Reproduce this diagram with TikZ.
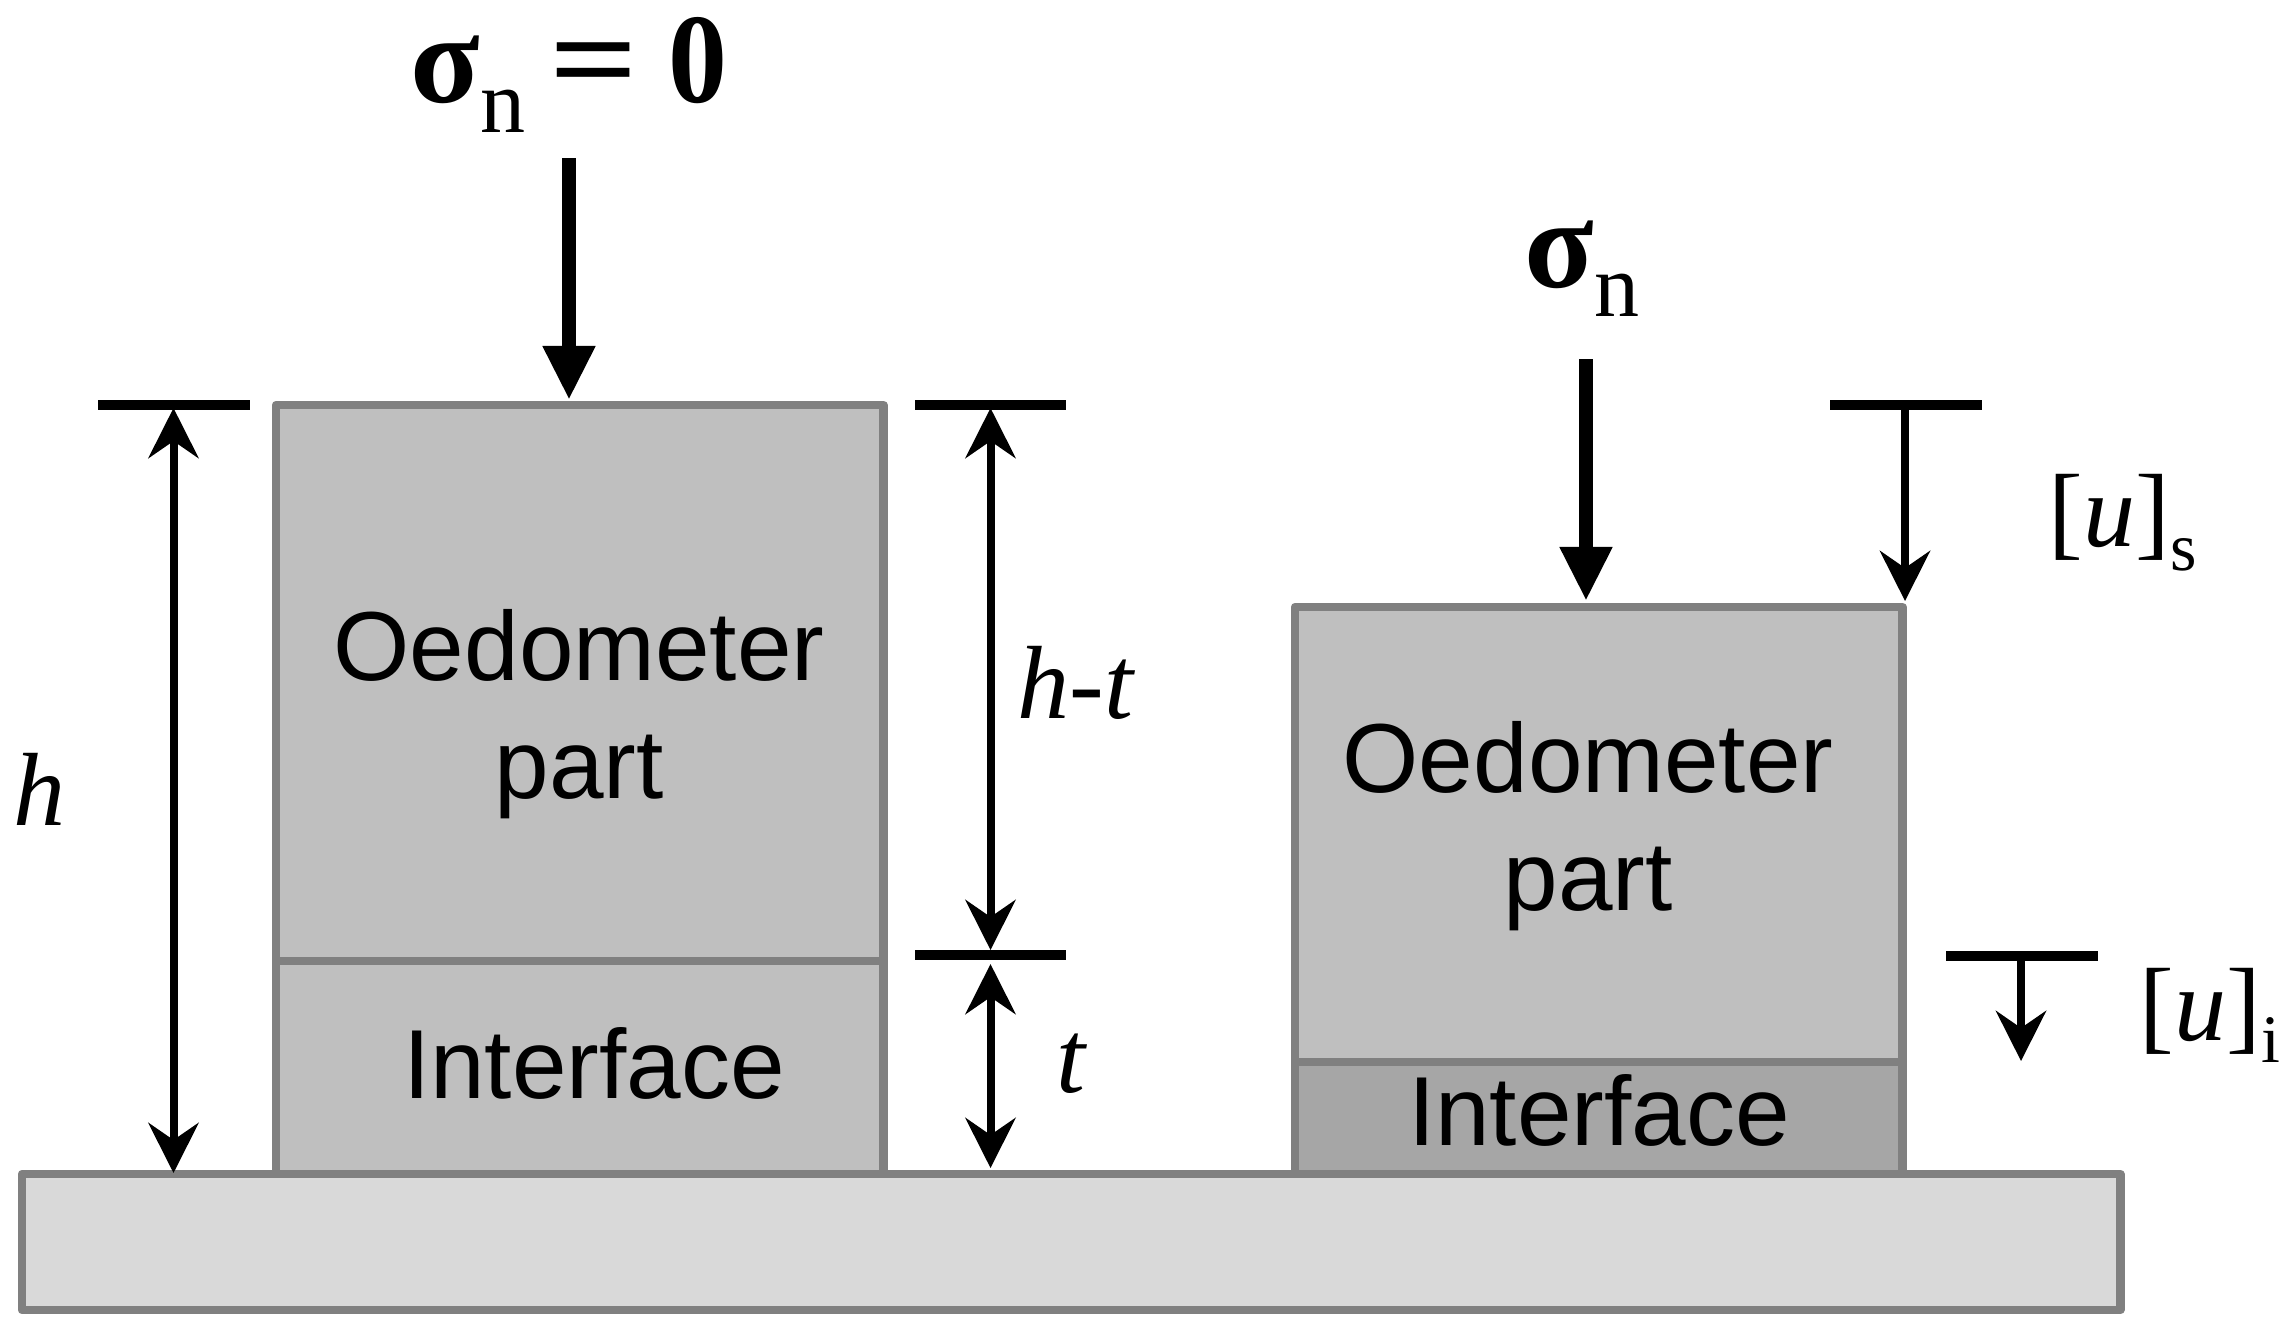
\documentclass[tikz,border=0pt]{standalone}
\usepackage{fontspec}
\usetikzlibrary{arrows.meta}
\setmainfont{Liberation Sans}
\newfontfamily\symfont{Liberation Serif}

\newcommand{\partfont}{\fontsize{27.9pt}{33.4pt}\selectfont}
\newcommand{\dimfont}{\symfont\itshape\fontsize{29.6pt}{33pt}\selectfont}
\newcommand{\brkfont}{\symfont\fontsize{29.6pt}{33pt}\selectfont}
\newcommand{\idxfont}{\symfont\fontsize{19.3pt}{22pt}\selectfont}
\newcommand{\sigfont}{\symfont\bfseries\fontsize{36.4pt}{40pt}\selectfont}
\newcommand{\subfont}{\symfont\mdseries\fontsize{25.6pt}{28pt}\selectfont}

\tikzset{
    block/.style={draw=black!50, line width=0.085cm, line join=round, inner sep=0pt, outer sep=0pt, anchor=north west},
    tick/.style={line width=0.095cm},
    load/.style={line width=0.14cm, -{Triangle[length=0.54cm,width=0.49cm]}},
    gap/.style={line width=0.08cm, -{Stealth[length=0.5cm,width=0.5cm,inset=0.17cm]}},
    gapboth/.style={line width=0.08cm, {Stealth[length=0.5cm,width=0.5cm,inset=0.17cm]}-{Stealth[length=0.5cm,width=0.5cm,inset=0.17cm]}},
    txt/.style={inner sep=0pt, anchor=base},
    lab/.style={inner sep=0pt, anchor=base west}
}

\begin{document}
\begin{tikzpicture}[x=0.01cm,y=-0.01cm]
\useasboundingbox (0,0) rectangle (2286,1329);

\node[block, fill=black!25, minimum width=6.07cm, minimum height=5.56cm] (oedleft) at (276,405) {};
\node[block, fill=black!25, minimum width=6.07cm, minimum height=2.13cm] (intleft) at (276,961) {};
\node[block, fill=black!25, minimum width=6.07cm, minimum height=4.55cm] (oedright) at (1295,607) {};
\node[block, fill=black!35, minimum width=6.07cm, minimum height=1.12cm] (intright) at (1295,1062) {};
\node[block, fill=black!15, minimum width=20.97cm, minimum height=1.36cm] (base) at (22,1174) {};

\node[txt, align=center, font=\partfont] (oedlefttxt) at (579,798) {Oedometer\\part};
\node[txt, font=\partfont] (intlefttxt) at (594,1098) {Interface};
\node[txt, align=center, font=\partfont] (oedrighttxt) at (1588,910) {Oedometer\\part};
\node[txt, font=\partfont] (intrighttxt) at (1599,1145) {Interface};

\coordinate (loadlefttop) at (569,158);
\coordinate (loadrighttop) at (1586,359);
\draw[load] (loadlefttop) -- (569,400);
\draw[load] (loadrighttop) -- (1586,601);

\coordinate (t1a) at (98,405);
\coordinate (t1b) at (250,405);
\coordinate (t2a) at (915,405);
\coordinate (t2b) at (1066,405);
\coordinate (t3a) at (915,955);
\coordinate (t3b) at (1066,955);
\coordinate (t4a) at (1830,405);
\coordinate (t4b) at (1982,405);
\coordinate (t5a) at (1946,956);
\coordinate (t5b) at (2098,956);
\draw[tick] (t1a) -- (t1b);
\draw[tick] (t2a) -- (t2b);
\draw[tick] (t3a) -- (t3b);
\draw[tick] (t4a) -- (t4b);
\draw[tick] (t5a) -- (t5b);

\draw[gapboth] (173.5,408) -- (173.5,1173);
\draw[gapboth] (990.5,408) -- (990.5,950);
\draw[gapboth] (990.5,964) -- (990.5,1168);
\draw[gap] (1905,405) -- (1905,601);
\draw[gap] (2021,956) -- (2021,1061);

\node[lab] (sigleft) at (410,102) {\sigfont σ\raisebox{-0.3cm}{\subfont n}\hspace{0.24cm}\scalebox{1.22}[1]{=}\hspace{0.3cm}\scalebox{0.92}[1]{0}};
\node[lab] (sigright) at (1524,287) {\sigfont σ\raisebox{-0.29cm}{\subfont n}};
\node[lab, font=\dimfont] (hlab) at (13,825) {h};
\node[lab, font=\dimfont] (htlab) at (1017,718) {h-t};
\node[lab, font=\dimfont] (tlab) at (1056,1092) {t};
\node[lab] (us) at (2048,546) {\brkfont[{\dimfont u}]\raisebox{-0.24cm}{\idxfont s}};
\node[lab] (ui) at (2139,1040) {\brkfont[{\dimfont u}]\raisebox{-0.22cm}{\idxfont i}};
\end{tikzpicture}
\end{document}
